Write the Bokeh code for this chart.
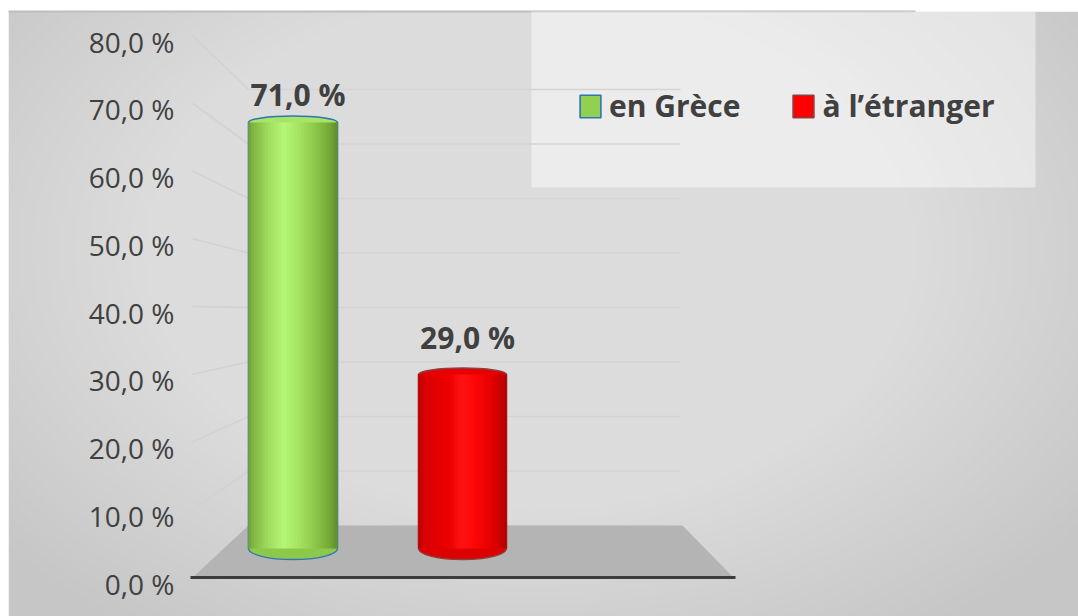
from bokeh.plotting import figure
from bokeh.models import Range1d, Legend, LegendItem
from bokeh.embed import file_html
from bokeh.resources import INLINE
from bokeh.core.properties import value

# ---------------- data ----------------
categories = ["en Grèce", "à l’étranger"]
values = [71.0, 29.0]
value_labels = ["71,0 %", "29,0 %"]
tick_values = [0, 10, 20, 30, 40, 50, 60, 70, 80]
tick_labels = ["0,0 %", "10,0 %", "20,0 %", "30,0 %", "40.0 %",
               "50,0 %", "60,0 %", "70,0 %", "80,0 %"]

# ---------------- layout / style ----------------
W, H = 1078, 616
BAR_ZERO, BAR_SCALE = 548.0, 6.0        # mid-depth scale (cylinders)
FRONT_ZERO, FRONT_SCALE = 577.0, 6.775  # front edge (axis labels)
BACK_ZERO, BACK_SCALE = 525.0, 5.45     # back wall (gridlines)

BAR_X = [292.5, 462.0]
BAR_W = [89.0, 88.0]
LABEL_DY = [-28, -37]

FONT = "Open Sans"
TXT = "#404040"


def rng(zero, scale):
    return Range1d(start=(zero - H) / scale, end=zero / scale)


def front_px(v):
    return FRONT_ZERO - v * FRONT_SCALE


def back_px(v):
    return BACK_ZERO - v * BACK_SCALE


p = figure(width=W, height=H, x_range=Range1d(0, W), y_range=rng(BAR_ZERO, BAR_SCALE),
           output_backend="svg", toolbar_location=None, min_border=0,
           x_axis_location=None, y_axis_location=None,
           outline_line_color=None, background_fill_color="white",
           border_fill_color="white")
p.grid.visible = False
p.extra_y_ranges = {"front": rng(FRONT_ZERO, FRONT_SCALE),
                    "back": rng(BACK_ZERO, BACK_SCALE),
                    "px": Range1d(H, 0)}

# ---------------- background (soft radial light) ----------------
p.quad(left=[8], right=[W], top=[11], bottom=[H], y_range_name="px",
       fill_color="#c6c6c6", line_color=None)
NL = 40
rx = [680 - k * 14 for k in range(NL)]
p.ellipse(x=[530] * NL, y=[250] * NL, width=[2 * r for r in rx],
          height=[1.35 * r for r in rx], width_units="screen", height_units="screen",
          y_range_name="px", fill_color="white", fill_alpha=0.028, line_color=None)
p.quad(left=[0, 0], right=[W, 8], top=[0, 0], bottom=[11, H], y_range_name="px",
       fill_color="white", line_color=None)
p.segment(x0=[8], x1=[915], y0=[11], y1=[11], y_range_name="px",
          line_color="#bdbdbd", line_width=2)
# legend panel
p.quad(left=[531], right=[1035], top=[11], bottom=[187], y_range_name="px",
       fill_color="white", fill_alpha=0.45, line_color=None)

# ---------------- walls / grid ----------------
p.segment(x0=248, x1=680, y0=tick_values, y1=tick_values, y_range_name="back",
          line_color="#d4d4d4", line_width=1.6)
p.segment(x0=192, x1=248, y0=[front_px(v) for v in tick_values],
          y1=[back_px(v) for v in tick_values], y_range_name="px",
          line_color="#d2d2d2", line_width=1.6)
# floor
p.patch(x=[192, 248, 682, 733], y=[front_px(0), back_px(0), back_px(0), front_px(0)],
        y_range_name="px", fill_color="#b4b4b4", line_color=None)
p.segment(x0=[190], x1=[735], y0=[front_px(0)], y1=[front_px(0)], y_range_name="px",
          line_color="#3c3c3c", line_width=3)

# tick labels (front edge)
p.text(x=174, y=tick_values, text=tick_labels, y_range_name="front",
       text_align="right", text_baseline="middle", y_offset=6,
       text_font=value(FONT), text_font_size="28px", text_color=TXT)


# ---------------- cylinders ----------------
def hex2rgb(h):
    h = h.lstrip("#")
    return tuple(int(h[i:i + 2], 16) for i in (0, 2, 4))


def shade(stops, t):
    for (t0, c0), (t1, c1) in zip(stops, stops[1:]):
        if t0 <= t <= t1:
            a = (t - t0) / (t1 - t0) if t1 > t0 else 0
            r0, r1 = hex2rgb(c0), hex2rgb(c1)
            return "#%02x%02x%02x" % tuple(int(round(r0[k] + (r1[k] - r0[k]) * a)) for k in range(3))
    return stops[-1][1]


STOPS = [
    [(0.0, "#6f9f35"), (0.06, "#82b843"), (0.25, "#a4e062"), (0.40, "#b6f676"),
     (0.55, "#a8e664"), (0.75, "#8cc84a"), (0.92, "#74a636"), (1.0, "#5f8c2c")],
    [(0.0, "#c00000"), (0.08, "#da0000"), (0.35, "#ee0000"), (0.50, "#ff1414"),
     (0.62, "#ff0808"), (0.85, "#e20000"), (1.0, "#b40000")],
]
SWATCH = ["#92d050", "#ff0000"]
EDGE = ["#2e75b6", "#8c4040"]
TOP_FILL = ["#a9e565", "#e60000"]
BOT_FILL = ["#8cc84a", "#dd0000"]
N = 32

swatch_renderers = []
for i, v in enumerate(values):
    cx, w = BAR_X[i], BAR_W[i]
    # base body (also used as legend swatch)
    rb = p.vbar(x=[cx], width=w, top=[v], bottom=0, fill_color=SWATCH[i],
                line_color=EDGE[i], line_width=1.6)
    swatch_renderers.append(rb)
    # bottom cap (lower half visible)
    p.ellipse(x=[cx], y=[0], width=[w], height=[22], width_units="screen",
              height_units="screen", fill_color=BOT_FILL[i], line_color=EDGE[i],
              line_width=1.3)
    # top cap
    p.ellipse(x=[cx], y=[v], width=[w], height=[13], width_units="screen",
              height_units="screen", fill_color=TOP_FILL[i], line_color=EDGE[i],
              line_width=1.5)
    # body with cylindrical shading
    sw = w / N
    xs = [cx - w / 2 + sw * (k + 0.5) for k in range(N)]
    cols = [shade(STOPS[i], (k + 0.5) / N) for k in range(N)]
    p.vbar(x=xs, width=sw + 0.6, top=[v] * N, bottom=0, fill_color=cols, line_color=None)

# data labels
for i, v in enumerate(values):
    p.text(x=[BAR_X[i]], y=[v], text=[value_labels[i]], text_align="center",
           text_baseline="alphabetic", x_offset=5, y_offset=LABEL_DY[i],
           text_font=value(FONT), text_font_style="bold", text_font_size="30px",
           text_color=TXT)

# ---------------- legend ----------------
legend = Legend(items=[LegendItem(label=categories[0], renderers=[swatch_renderers[0]]),
                       LegendItem(label=categories[1], renderers=[swatch_renderers[1]])],
                location=(577, 490), orientation="horizontal",
                glyph_width=26, glyph_height=28, label_standoff=6, spacing=50,
                padding=0, margin=0, background_fill_alpha=0, border_line_alpha=0,
                label_text_font=FONT, label_text_font_style="bold",
                label_text_font_size="30px", label_text_color=TXT)
p.add_layout(legend)

open("out.html", "w").write(file_html(p, INLINE))
